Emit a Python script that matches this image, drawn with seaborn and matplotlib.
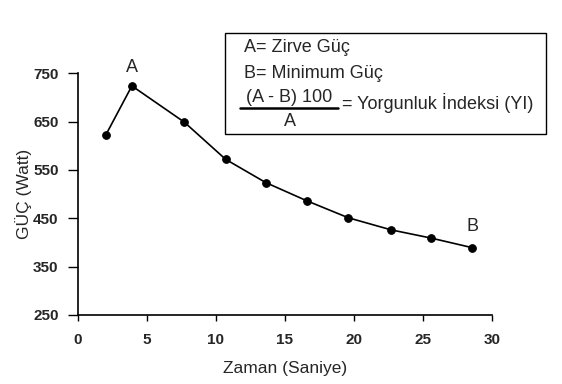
import matplotlib
matplotlib.use("Agg")
import matplotlib.pyplot as plt
import seaborn as sns
import pandas as pd
from matplotlib.patches import Rectangle
from matplotlib.lines import Line2D

time_s = [2.0, 3.9, 7.7, 10.7, 13.6, 16.6, 19.6, 22.7, 25.6, 28.6]
power_w = [622, 724, 649, 572, 524, 486, 451, 426, 409, 389]
x_ticks = [0, 5, 10, 15, 20, 25, 30]
y_ticks = [250, 350, 450, 550, 650, 750]

sns.set_theme(style="white")
plt.rcParams['font.family'] = ['Liberation Sans', 'DejaVu Sans']

df = pd.DataFrame({"t": time_s, "p": power_w})

fig = plt.figure(figsize=(5.62, 3.84), dpi=100)
ax = fig.add_axes([0.139, 0.180, 0.736, 0.629])
sns.lineplot(data=df, x="t", y="p", ax=ax, color="black", linewidth=1.2,
             marker="o", markersize=5.5, markeredgecolor="black", markerfacecolor="black")

ax.set_xlim(0, 30)
ax.set_ylim(250, 750)
ax.set_xticks(x_ticks)
ax.set_yticks(y_ticks)
tick_font = dict(fontsize=11, fontweight="bold",
                 family=['Liberation Sans Narrow', 'Liberation Sans', 'DejaVu Sans'])
ax.set_xticklabels([str(v) for v in x_ticks], **tick_font)
ax.set_yticklabels([str(v) for v in y_ticks], **tick_font)
ax.tick_params(axis="x", direction="out", length=4, width=1, color="black",
               bottom=True, pad=9)
ax.tick_params(axis="y", direction="out", length=7, width=1, color="black",
               left=True, pad=7)
for s in ["top", "right"]:
    ax.spines[s].set_visible(False)
for s in ["left", "bottom"]:
    ax.spines[s].set_color("black")
    ax.spines[s].set_linewidth(1.2)
ax.set_xlabel("Zaman (Saniye)", fontsize=12.5, labelpad=10)
ax.set_ylabel("GÜÇ (Watt)", fontsize=12.5, labelpad=1)
ax.grid(False)

ax.annotate("A", xy=(time_s[1], power_w[1]), xytext=(0, 7), textcoords="offset points",
            ha="center", va="bottom", fontsize=13)
ax.annotate("B", xy=(time_s[-1], power_w[-1]), xytext=(0, 9), textcoords="offset points",
            ha="center", va="bottom", fontsize=13)

# legend box in figure coordinates
W, H = 562.0, 384.0
fig.patches.append(Rectangle((225 / W, 1 - 134 / H), (546 - 225) / W, (134 - 33) / H,
                             transform=fig.transFigure, fill=False, edgecolor="black", linewidth=1.0))
fs = 13
fig.text(244 / W, 1 - 48 / H, "A= Zirve Güç", fontsize=fs, va="center", ha="left")
fig.text(244 / W, 1 - 73 / H, "B= Minimum Güç", fontsize=fs, va="center", ha="left")
fig.text(289 / W, 1 - 98 / H, "(A - B) 100", fontsize=fs, va="center", ha="center")
fig.lines.append(Line2D([240 / W, 338 / W], [1 - 108 / H, 1 - 108 / H], transform=fig.transFigure,
                        color="black", linewidth=1.8))
fig.text(290 / W, 1 - 122 / H, "A", fontsize=fs, va="center", ha="center")
fig.text(342 / W, 1 - 103 / H, "= Yorgunluk İndeksi (YI)", fontsize=fs, va="center", ha="left")

fig.savefig("out.png", dpi=100)
